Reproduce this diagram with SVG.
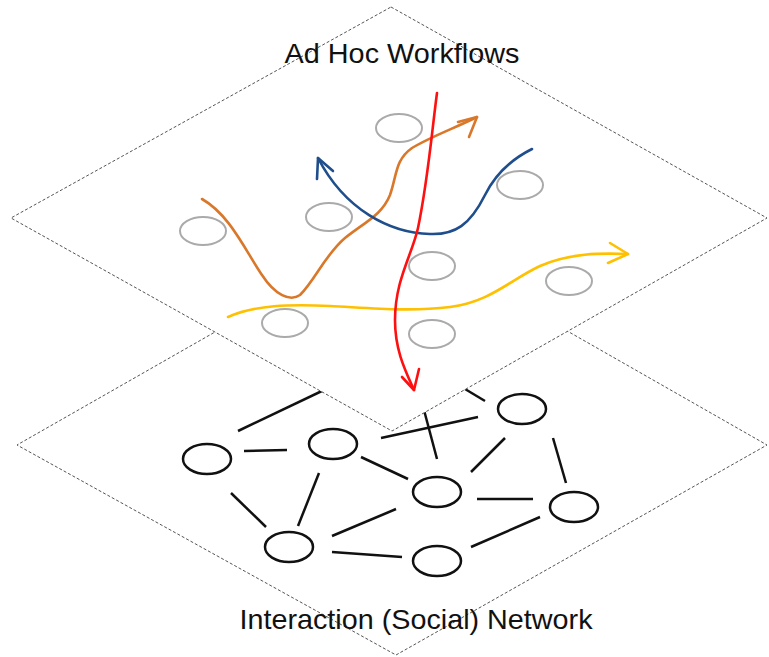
<svg xmlns="http://www.w3.org/2000/svg" width="769" height="657" viewBox="0 0 769 657">
<style>
.plane{fill:#fff;stroke:#555;stroke-width:1;stroke-dasharray:3 2}
.nn{fill:none;stroke:#111;stroke-width:2.5}
.edge{stroke:#111;stroke-width:2.5;fill:none}
.wn{fill:none;stroke:#aaa;stroke-width:2}
.flow{fill:none;stroke-width:2.6;stroke-linecap:round;stroke-linejoin:round}
.lbl{font-family:"Liberation Sans",Arial,sans-serif;font-size:28px;fill:#111;text-anchor:middle}
</style>
<rect width="769" height="657" fill="#fff"/>
<g id="bottom-plane">
<polygon class="plane" points="392,231 767,445 396,655 17,445"/>
</g>
<g id="network-edges">
<line class="edge" x1="238" y1="431" x2="345" y2="380"/>
<line class="edge" x1="244" y1="451" x2="287" y2="450"/>
<line class="edge" x1="231" y1="493" x2="266" y2="527"/>
<line class="edge" x1="319" y1="473" x2="298" y2="526"/>
<line class="edge" x1="361" y1="457" x2="408" y2="479"/>
<line class="edge" x1="332" y1="536" x2="396" y2="509"/>
<line class="edge" x1="332" y1="552" x2="402" y2="557"/>
<line class="edge" x1="381" y1="438" x2="478" y2="417"/>
<line class="edge" x1="420" y1="395" x2="437" y2="459"/>
<line class="edge" x1="450" y1="380" x2="485" y2="401"/>
<line class="edge" x1="505" y1="438" x2="471" y2="472"/>
<line class="edge" x1="477" y1="499" x2="533" y2="499"/>
<line class="edge" x1="553" y1="438" x2="566" y2="483"/>
<line class="edge" x1="471" y1="547" x2="540" y2="517"/>
</g>
<g id="net-node-a"><ellipse class="nn" cx="207" cy="459" rx="24" ry="15"/></g>
<g id="net-node-b"><ellipse class="nn" cx="333" cy="444" rx="24" ry="15"/></g>
<g id="net-node-c"><ellipse class="nn" cx="289" cy="547" rx="24" ry="15"/></g>
<g id="net-node-d"><ellipse class="nn" cx="437" cy="492" rx="24" ry="15"/></g>
<g id="net-node-e"><ellipse class="nn" cx="437" cy="561" rx="24" ry="15"/></g>
<g id="net-node-f"><ellipse class="nn" cx="522" cy="409" rx="24" ry="15"/></g>
<g id="net-node-g"><ellipse class="nn" cx="574" cy="507" rx="24" ry="15"/></g>
<g id="top-plane">
<polygon class="plane" points="391,7 767,218 392,431 11,218"/>
</g>
<g id="wf-node-1"><ellipse class="wn" cx="203" cy="231" rx="23" ry="14"/></g>
<g id="wf-node-2"><ellipse class="wn" cx="329" cy="217" rx="23" ry="14"/></g>
<g id="wf-node-3"><ellipse class="wn" cx="399" cy="128" rx="23" ry="14"/></g>
<g id="wf-node-4"><ellipse class="wn" cx="520" cy="185" rx="23" ry="14"/></g>
<g id="wf-node-5"><ellipse class="wn" cx="432" cy="266" rx="23" ry="14"/></g>
<g id="wf-node-6"><ellipse class="wn" cx="569" cy="281" rx="23" ry="14"/></g>
<g id="wf-node-7"><ellipse class="wn" cx="432" cy="334" rx="23" ry="14"/></g>
<g id="wf-node-8"><ellipse class="wn" cx="285" cy="323" rx="23" ry="14"/></g>
<g id="workflows">
<path class="flow" stroke="#d9782a" d="M202,199 C230,215 245,250 262,275 C275,295 290,302 300,295 C315,280 325,255 345,238 C365,222 382,215 390,195 C397,175 395,160 412,148 C430,137 455,128 477,117"/>
<path class="flow" stroke="#d9782a" d="M458,122 L477,117 L469,137"/>
<path class="flow" stroke="#1f4e8c" d="M532,149 C510,160 495,175 485,195 C470,225 455,235 430,234 C390,233 345,210 318,158"/>
<path class="flow" stroke="#1f4e8c" d="M317,179 L318,158 L333,171"/>
<path class="flow" stroke="#ffc000" d="M228,317 C255,305 290,304 330,306 C370,308 410,312 450,307 C490,302 510,280 540,266 C570,253 600,253 628,254"/>
<path class="flow" stroke="#ffc000" d="M610,243 L628,254 L608,263"/>
<path class="flow" stroke="#ff1010" d="M437,93 C432,130 428,180 418,228 C412,255 395,280 395,320 C395,350 405,370 414,390"/>
<path class="flow" stroke="#ff1010" d="M402,377 L414,390 L419,369"/>
</g>
<g id="labels">
<text class="lbl" x="402" y="63" textLength="235" lengthAdjust="spacingAndGlyphs">Ad Hoc Workflows</text>
<text class="lbl" x="416" y="629" textLength="353" lengthAdjust="spacingAndGlyphs">Interaction (Social) Network</text>
</g>
</svg>
